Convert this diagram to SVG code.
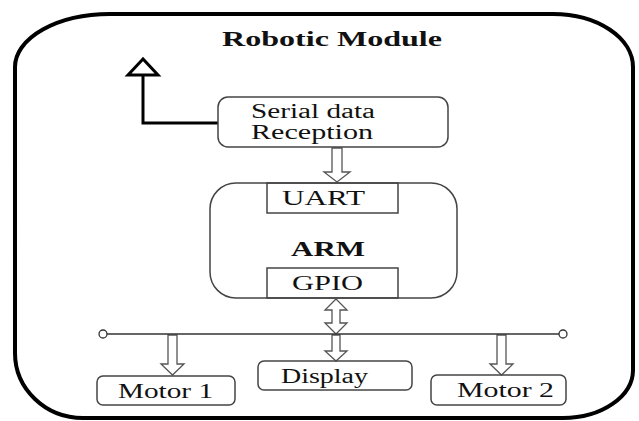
<svg xmlns="http://www.w3.org/2000/svg" width="639" height="421" viewBox="0 0 639 421">
<style>
.t{font-family:"Liberation Serif","Times New Roman",serif;font-size:20px;fill:#111;}
.b{font-weight:bold;}
.box{fill:none;stroke:#444;stroke-width:1.5;}
.blk{fill:#fff;stroke:#555;stroke-width:1.3;stroke-linejoin:miter;}
.bus{fill:none;stroke:#333;stroke-width:1.3;}
</style>
<rect width="639" height="421" fill="#fff"/>
<g id="frame">
<path d="M110 14 L553 14 A80 53 0 0 1 633 67 L633 370 A70 48 0 0 1 563 418 L83 418 A68 65 0 0 1 15 353 L15 67 A95 53 0 0 1 110 14 Z" fill="none" stroke="#000" stroke-width="4"/>
<text class="t b" x="222" y="46" font-size="21" textLength="220" lengthAdjust="spacingAndGlyphs">Robotic Module</text>
</g>
<g id="connectors">
<path d="M218 123 L143 123 L143 75" fill="none" stroke="#000" stroke-width="3"/>
<polygon points="143,59 128,75 158,75" fill="#fff" stroke="#000" stroke-width="3" stroke-linejoin="miter"/>
<polygon class="blk" points="332,148 342,148 342,172 350,172 337,182 324,172 332,172"/>
<polygon class="blk" points="336,299 347,310 340,310 340,323 347,323 336,334 325,323 332,323 332,310 325,310"/>
<polygon class="blk" points="332,335 340,335 340,351 347,351 336,361 325,351 332,351"/>
<polygon class="blk" points="168,335 177,335 177,364 184,364 172.5,375 161,364 168,364"/>
<polygon class="blk" points="497,335 506,335 506,364 513,364 501.5,375 490,364 497,364"/>
<line class="bus" x1="107" y1="334" x2="559" y2="334"/>
<circle class="bus" cx="103" cy="334" r="4" fill="#fff"/>
<circle class="bus" cx="563" cy="334" r="4" fill="#fff"/>
</g>
<g id="serial">
<rect class="box" x="218" y="97" width="230" height="50" rx="10"/>
<text class="t" x="251" y="118" textLength="124" lengthAdjust="spacingAndGlyphs">Serial data</text>
<text class="t" x="251" y="139" textLength="122" lengthAdjust="spacingAndGlyphs">Reception</text>
</g>
<g id="arm">
<rect class="box" x="210" y="183" width="247" height="115" rx="26"/>
<text class="t b" x="291" y="256" textLength="74" lengthAdjust="spacingAndGlyphs">ARM</text>
</g>
<g id="uart">
<rect class="box" x="267" y="183" width="131" height="30" fill="#fff"/>
<text class="t" x="282" y="205" textLength="83" lengthAdjust="spacingAndGlyphs">UART</text>
</g>
<g id="gpio">
<rect class="box" x="267" y="268" width="131" height="30" fill="#fff"/>
<text class="t" x="292" y="290" textLength="71" lengthAdjust="spacingAndGlyphs">GPIO</text>
</g>
<g id="display">
<rect class="box" x="258" y="361" width="154" height="29" rx="6"/>
<text class="t" x="281" y="383" textLength="87" lengthAdjust="spacingAndGlyphs">Display</text>
</g>
<g id="motor1">
<rect class="box" x="97" y="376" width="138" height="29" rx="6"/>
<text class="t" x="118" y="398" textLength="95" lengthAdjust="spacingAndGlyphs">Motor 1</text>
</g>
<g id="motor2">
<rect class="box" x="431" y="375" width="135" height="30" rx="6"/>
<text class="t" x="457" y="397" textLength="97" lengthAdjust="spacingAndGlyphs">Motor 2</text>
</g>
</svg>
